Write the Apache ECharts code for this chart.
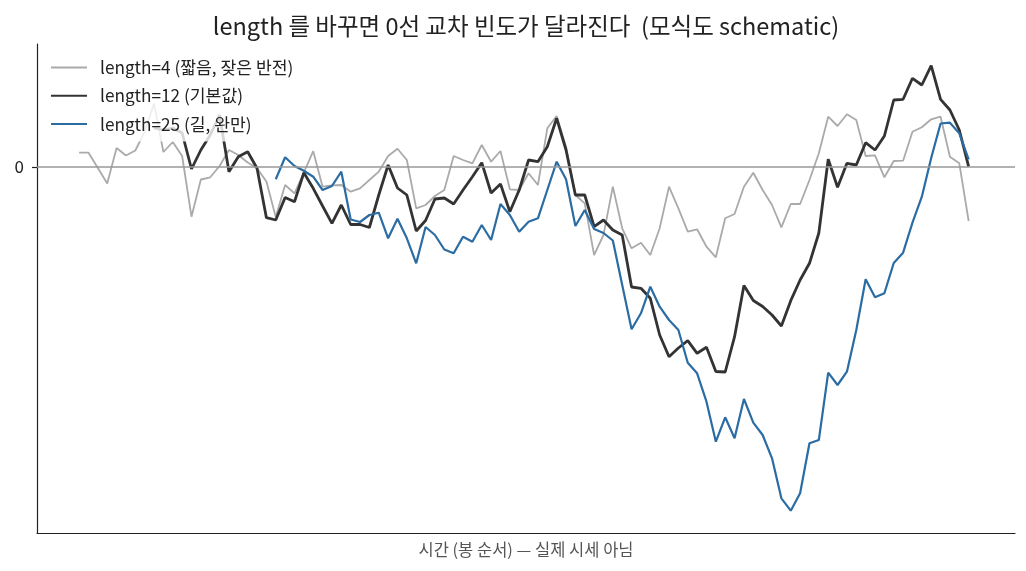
<!DOCTYPE html>
<html><head><meta charset="utf-8">
<script src="https://cdn.jsdelivr.net/npm/echarts@6/dist/echarts.min.js"></script>
<style>html,body{margin:0;padding:0;background:#fff}#c{width:1026px;height:571px}</style>
</head><body><div id="c"></div>
<script>
// x index of each bar (0..98); each series starts after its warm-up window
const gray4 = [1.43,1.43,-0.10,-1.65,1.90,1.15,1.65,3.55,6.35,1.50,2.50,1.10,-4.97,-1.25,-1.03,0.10,1.70,1.20,0.45,-0.13,-1.45,-5.00,-1.80,-2.63,-0.55,1.58,-1.97,-1.83,-1.80,-2.47,-2.13,-1.30,-0.47,1.10,1.83,0.70,-4.13,-3.80,-2.90,-2.30,1.10,0.70,0.37,2.20,0.53,1.60,-2.23,-2.30,-0.63,-1.80,3.87,5.10,2.03,-2.80,-3.63,-8.80,-6.80,-1.97,-6.13,-8.13,-7.57,-8.80,-6.13,-1.97,-4.13,-6.47,-6.23,-7.97,-9.03,-5.13,-4.70,-1.97,-0.57,-2.30,-3.80,-6.03,-3.70,-3.70,-1.30,1.37,5.03,4.10,5.27,4.70,1.10,1.17,-1.03,0.60,0.63,3.53,3.97,4.77,5.03,1.03,0.37,-5.40];
const gray4Start = 3;
const black12 = [3.9,3.7,3.9,3.4,-0.2,1.7,3.2,5.2,-0.47,1.03,1.53,-0.13,-5.07,-5.30,-3.05,-3.47,-0.57,-2.13,-3.90,-5.63,-3.80,-5.75,-5.75,-6.05,-2.80,0.20,-2.10,-2.80,-6.40,-5.35,-3.20,-3.10,-3.70,-2.30,-0.97,0.43,-2.60,-1.70,-4.47,-2.30,0.70,0.53,2.03,4.87,1.70,-2.80,-2.80,-5.97,-5.30,-6.30,-6.80,-12.00,-12.13,-13.13,-16.80,-18.97,-18.10,-17.37,-18.63,-18.03,-20.45,-20.50,-16.97,-11.85,-13.35,-13.95,-14.80,-15.90,-13.37,-11.30,-9.63,-6.60,0.77,-2.03,0.37,0.20,2.43,1.70,3.10,6.70,6.77,8.87,8.20,10.13,6.77,5.70,3.70,0.03];
const black12Start = 11;
const blue25 = [-1.23,0.97,0.10,-0.37,-0.97,-2.30,-1.90,-0.47,-5.25,-5.50,-4.80,-4.57,-7.13,-5.18,-7.13,-9.63,-6.00,-6.80,-8.25,-8.63,-6.97,-7.47,-5.80,-7.30,-3.70,-4.80,-6.47,-5.47,-5.13,-2.30,0.53,-1.23,-5.90,-4.30,-6.20,-6.60,-7.35,-11.80,-16.23,-14.63,-11.97,-13.97,-15.30,-16.30,-19.57,-20.63,-23.47,-27.47,-25.03,-27.13,-23.20,-25.57,-26.80,-29.13,-33.13,-34.37,-32.63,-27.63,-27.30,-20.57,-21.80,-20.47,-16.30,-11.23,-13.03,-12.63,-9.60,-8.57,-5.57,-2.97,0.90,4.35,4.43,3.37,0.77];
const blue25Start = 24;
const seriesNames = ['length=4 (짧음, 잦은 반전)', 'length=12 (기본값)', 'length=25 (길, 완만)'];
const yTickLabels = [0];
const titleText = 'length 를 바꾸면 0선 교차 빈도가 달라진다  (모식도 schematic)';
const xAxisName = '시간 (봉 순서) — 실제 시세 아님';

function toPairs(arr, start){ return arr.map((v,i)=>[start+i, v]); }
const FONT = '"Noto Sans CJK KR", "Noto Sans", sans-serif';

const chart = echarts.init(document.getElementById('c'), null, {renderer:'canvas'});
chart.setOption({
  backgroundColor:'#fff',
  animation:false,
  textStyle:{fontFamily:FONT},
  title:{text:titleText, left:521, top:9, textAlign:'center',
    textStyle:{fontFamily:FONT, fontSize:23.5, fontWeight:'normal', color:'#222'}},
  grid:{left:37, right:11, top:44, bottom:38, containLabel:false},
  legend:{
    orient:'vertical', left:42, top:51, padding:[8,8,9,8], z:10,
    itemWidth:36, itemHeight:14, itemGap:11,
    backgroundColor:'rgba(255,255,255,0.8)',
    itemStyle:{opacity:0},
    textStyle:{fontFamily:FONT, fontSize:17.2, color:'#222', padding:[0,0,0,8]},
    data:seriesNames
  },
  xAxis:{type:'value', min:-1.5, max:102.95,
    name:xAxisName, nameLocation:'middle', nameGap:8,
    nameTextStyle:{fontFamily:FONT, fontSize:16.5, color:'#555', verticalAlign:'top'},
    axisLine:{onZero:false, lineStyle:{color:'#222', width:1.2}},
    axisTick:{show:false}, axisLabel:{show:false}, splitLine:{show:false}},
  yAxis:{type:'value', min:-36.6, max:12.3,
    axisLine:{show:true, onZero:false, lineStyle:{color:'#222', width:1.2}},
    axisTick:{show:true, length:5, customValues:yTickLabels, lineStyle:{color:'#222', width:1.2}},
    axisLabel:{customValues:yTickLabels, fontFamily:FONT, fontSize:17, color:'#222', margin:13},
    splitLine:{show:false}},
  series:[
    {type:'line', name:'zero', data:[], z:1, silent:true,
      markLine:{silent:true, symbol:['none','none'], label:{show:false},
        lineStyle:{color:'#999', width:1.5, type:'solid'}, data:[{yAxis:0}]}},
    {type:'line', name:seriesNames[0], data:toPairs(gray4, gray4Start), symbol:'none', z:2,
      lineStyle:{color:'#aaaaaa', width:1.8}, itemStyle:{color:'#aaaaaa'}},
    {type:'line', name:seriesNames[1], data:toPairs(black12, black12Start), symbol:'none', z:2,
      lineStyle:{color:'#333333', width:2.8}, itemStyle:{color:'#333333'}},
    {type:'line', name:seriesNames[2], data:toPairs(blue25, blue25Start), symbol:'none', z:2,
      lineStyle:{color:'#2b6ca3', width:2.2}, itemStyle:{color:'#2b6ca3'}}
  ]
});
</script></body></html>
